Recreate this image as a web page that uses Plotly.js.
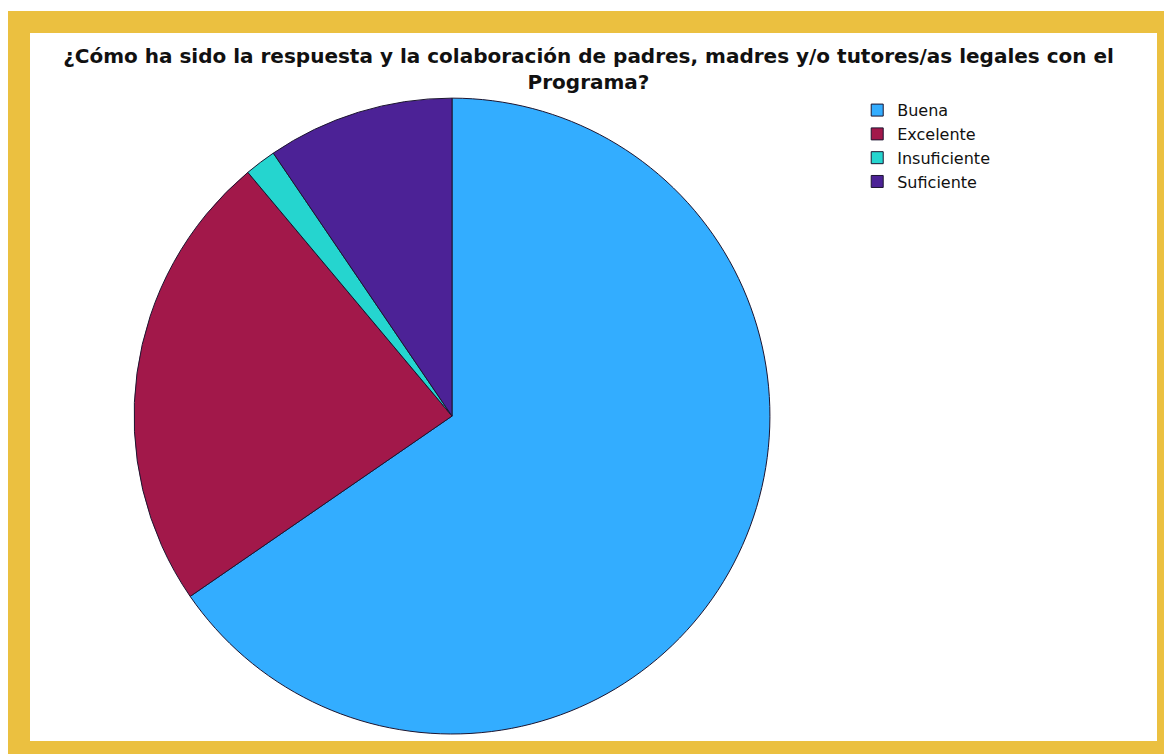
<!DOCTYPE html>
<html>
<head>
<meta charset="utf-8">
<script src="https://cdn.plot.ly/plotly-3.0.1.min.js"></script>
<style>
  html, body { margin: 0; padding: 0; background: #ffffff; width: 1164px; height: 754px; overflow: hidden; }
  #frame { position: absolute; left: 8px; top: 11px; width: 1156px; height: 743px; background: #EBC040; }
  #chart { position: absolute; left: 30px; top: 33px; width: 1127px; height: 708px; background: #ffffff; }
</style>
</head>
<body>
<div id="frame"></div>
<div id="chart"></div>
<script>
const categories = ["Buena", "Excelente", "Insuficiente", "Suficiente"];
const percentages = [65.4, 23.5, 1.6, 9.5];
const sliceColors = ["#33ADFF", "#A2184A", "#25D5CF", "#4C2296"];
const titleLines = ["¿Cómo ha sido la respuesta y la colaboración de padres, madres y/o tutores/as legales con el", "Programa?"];

const trace = {
  type: "pie",
  labels: categories,
  values: percentages,
  sort: false,
  direction: "clockwise",
  rotation: 0,
  textinfo: "none",
  hoverinfo: "label+percent",
  marker: { colors: sliceColors, line: { color: "#1c1530", width: 1 } },
  domain: { x: [0.0923, 0.6566], y: [0.0099, 0.908] }
};

const layout = {
  width: 1127,
  height: 708,
  margin: { l: 0, r: 0, t: 0, b: 0 },
  paper_bgcolor: "#ffffff",
  font: { family: "DejaVu Sans, Verdana, sans-serif", color: "#111111" },
  title: {
    text: titleLines.map(function (s) { return "<b>" + s + "</b>"; }).join("<br>"),
    font: { family: "DejaVu Sans, Verdana, sans-serif", size: 20, color: "#111111" },
    x: 0.4956, xanchor: "center",
    y: 0.957, yanchor: "top",
    yref: "container"
  },
  showlegend: true,
  legend: {
    x: 0.734, xanchor: "left",
    y: 0.915, yanchor: "top",
    font: { family: "DejaVu Sans, Verdana, sans-serif", size: 16, color: "#111111" },
    bgcolor: "rgba(0,0,0,0)",
    traceorder: "normal"
  }
};

Plotly.newPlot("chart", [trace], layout, { displayModeBar: false, staticPlot: true });
</script>
</body>
</html>
